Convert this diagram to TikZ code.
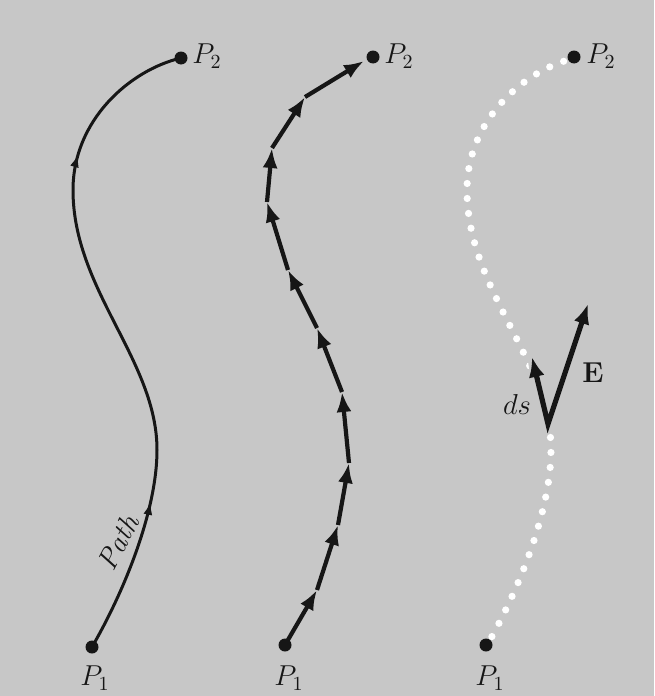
\documentclass[tikz,border=0pt]{standalone}
\usetikzlibrary{arrows.meta,decorations.markings}
\definecolor{bgcol}{RGB}{199,199,199}
\definecolor{ink}{RGB}{22,22,22}
\begin{document}
\begin{tikzpicture}[x=0.5pt,y=-0.5pt,
  dot/.style={circle,fill=ink,inner sep=0pt,minimum size=6.5pt},
  lab/.style={font=\fontsize{14.4}{17}\selectfont,text=ink,inner sep=0pt},
  pathline/.style={draw=ink,line width=1.5pt},
  segline/.style={draw=ink,line width=2.1pt,-{Latex[length=10pt,width=7.5pt]}},
  vecline/.style={draw=ink,line width=2.6pt,line join=miter,
    {Latex[length=10pt,width=8pt]}-{Latex[length=10pt,width=8pt]}},
  whitedots/.style={draw=white,line width=3.6pt,line cap=round,
    dash pattern=on 0pt off 7.5pt,dash phase=1.5pt}
]
\fill[bgcol] (0,0) rectangle (654,696);
\useasboundingbox (0,0) rectangle (654,696);

% ---------- left panel ----------
\node[dot] (L1) at (92,647) {};
\node[dot] (L2) at (181,58) {};
\draw[pathline,postaction={decorate},
  decoration={markings,
    mark=at position 0.235 with {\arrow[ink]{Latex[length=6.5pt,width=4.5pt]}},
    mark=at position 0.78 with {\arrow[ink]{Latex[length=6.5pt,width=4.5pt]}}}]
  (L1.center) .. controls (125,590) and (157,510) .. (157,450)
  .. controls (157,360) and (73,290) .. (73,190)
  .. controls (73,120) and (130,70) .. (L2.center);
\node[lab,rotate=62] (pathlab) at (118,542) {\textit{Path}};
\node[lab] (L1lab) at (95,678) {$P_1$};
\node[lab] (L2lab) at (207,56) {$P_2$};

% ---------- middle panel ----------
\node[dot] (M1) at (285,645) {};
\node[dot] (M2) at (373,57) {};
\coordinate (m1) at (317,590);
\coordinate (m2) at (338,525);
\coordinate (m3) at (349,463);
\coordinate (m4) at (342,392);
\coordinate (m5) at (317,328);
\coordinate (m6) at (288,270);
\coordinate (m7) at (267,202);
\coordinate (m8) at (272,148);
\coordinate (m9) at (305,97);
\coordinate (m10) at (364,61);
\draw[segline] (M1.center) -- (m1);
\draw[segline] (m1) -- (m2);
\draw[segline] (m2) -- (m3);
\draw[segline] (m3) -- (m4);
\draw[segline] (m4) -- (m5);
\draw[segline] (m5) -- (m6);
\draw[segline] (m6) -- (m7);
\draw[segline] (m7) -- (m8);
\draw[segline] (m8) -- (m9);
\draw[segline] (m9) -- (m10);
\node[lab] (M1lab) at (289,678) {$P_1$};
\node[lab] (M2lab) at (399,56) {$P_2$};

% ---------- right panel ----------
\begin{scope}[shift={(394,0)}]
\draw[whitedots]
  (92,647) .. controls (125,590) and (157,510) .. (157,450)
  .. controls (157,360) and (73,290) .. (73,190)
  .. controls (73,120) and (130,70) .. (181,58);
\end{scope}
\fill[bgcol] (527,355) -- (543,355) -- (557,400) -- (558,431) -- (540,431) -- (534,400) -- cycle;
\node[dot] (R1) at (486,645) {};
\node[dot] (R2) at (574,57) {};
\coordinate (vb) at (548,424);
\coordinate (dstip) at (532,357);
\coordinate (etip) at (588,304);
\draw[vecline] (dstip) -- (vb) -- (etip);
\node[lab] (dslab) at (517,404) {$ds$};
\node[lab] (elab) at (593,373) {$\mathbf{E}$};
\node[lab] (R1lab) at (490,678) {$P_1$};
\node[lab] (R2lab) at (601,56) {$P_2$};
\end{tikzpicture}
\end{document}
